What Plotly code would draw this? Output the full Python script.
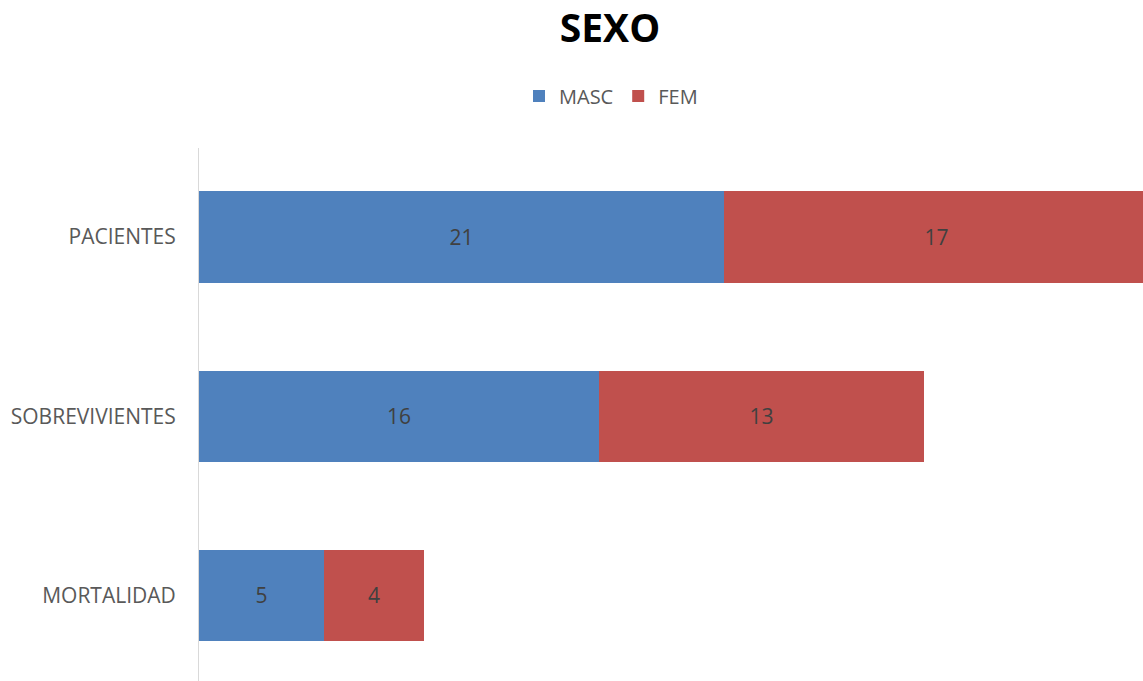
import plotly.graph_objects as go

categories = ["MORTALIDAD", "SOBREVIVIENTES", "PACIENTES"]
masc = [5, 16, 21]
fem = [4, 13, 17]
series_names = ["MASC", "FEM"]
title_text = "SEXO"

BLUE = "#4F81BD"
RED = "#C0504D"
FONT = "Open Sans, Liberation Sans, sans-serif"

fig = go.Figure()
for name, vals, col in [(series_names[0], masc, BLUE), (series_names[1], fem, RED)]:
    fig.add_trace(go.Bar(
        y=categories, x=vals, name=name, orientation="h",
        marker=dict(color=col, line=dict(width=0)),
        text=[str(v) for v in vals], textposition="inside",
        insidetextanchor="middle",
        textfont=dict(color="#404040", size=21, family=FONT),
        width=0.51,
    ))

fig.update_layout(
    width=1143, height=681,
    barmode="stack",
    plot_bgcolor="white", paper_bgcolor="white",
    margin=dict(l=199, r=0, t=148, b=0),
    title=dict(text="<b>" + title_text + "</b>", x=610/1143, xref="container",
               xanchor="center", y=1 - 28/681, yanchor="middle",
               font=dict(size=39, color="black", family=FONT)),
    legend=dict(orientation="h", x=611/1143, xref="container", xanchor="center",
                y=1 - 96/681, yref="container", yanchor="middle",
                font=dict(size=20, color="#595959", family=FONT),
                itemwidth=30, traceorder="normal"),
    xaxis=dict(range=[0, 37.76], visible=False, fixedrange=True),
    yaxis=dict(range=[-0.478, 2.497], showline=True, linecolor="#d9d9d9",
               linewidth=1, showgrid=False, zeroline=False, ticks="",
               ticklabelstandoff=18,
               tickfont=dict(size=21, color="#595959", family=FONT)),
    uniformtext=dict(mode=False),
)

fig.write_html("out.html")
